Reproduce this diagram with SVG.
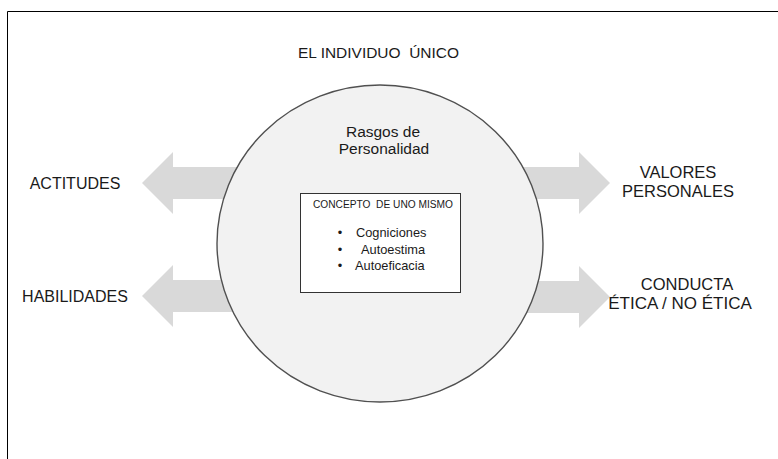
<svg xmlns="http://www.w3.org/2000/svg" width="778" height="459" viewBox="0 0 778 459">
  <style>
    .lbl { font-family: "Liberation Sans", Arial, sans-serif; fill: #1a1a1a; }
    .arrow { fill: #d9d9d9; stroke: none; }
  </style>
  <rect width="778" height="459" fill="#ffffff"/>
  <!-- outer frame (top and left edges only) -->
  <path d="M7.5,459 V11.5 H778" fill="none" stroke="#000" stroke-width="1"/>

  <g id="connectors">
    <polygon class="arrow" points="142,183 173,152 173,167 240,167 240,199 173,199 173,214"/>
    <polygon class="arrow" points="520,167 579,167 579,152 610,183 579,214 579,199 520,199"/>
    <polygon class="arrow" points="142,296 173,265 173,280 240,280 240,312 173,312 173,327"/>
    <polygon class="arrow" points="520,281 579,281 579,266 610,297 579,328 579,313 520,313"/>
  </g>

  <g id="title">
    <text class="lbl" x="378.5" y="58" font-size="15" text-anchor="middle" xml:space="preserve" textLength="161" lengthAdjust="spacingAndGlyphs">EL INDIVIDUO  ÚNICO</text>
  </g>

  <g id="individuo">
    <ellipse cx="380" cy="243.5" rx="163" ry="158.5" fill="#f2f2f2" stroke="#505050" stroke-width="1.4"/>
    <text class="lbl" x="383" y="137" font-size="15.5" text-anchor="middle">Rasgos de</text>
    <text class="lbl" x="384" y="154" font-size="15.5" text-anchor="middle">Personalidad</text>
  </g>

  <g id="concepto">
    <rect x="300.5" y="193.5" width="160" height="99" fill="#ffffff" stroke="#333" stroke-width="1"/>
    <text class="lbl" x="383" y="208" font-size="10" text-anchor="middle" xml:space="preserve" textLength="140" lengthAdjust="spacingAndGlyphs">CONCEPTO  DE UNO MISMO</text>
    <text class="lbl" x="340" y="237" font-size="12.8" text-anchor="middle">•</text>
    <text class="lbl" x="356" y="237" font-size="12.8">Cogniciones</text>
    <text class="lbl" x="340" y="254" font-size="12.8" text-anchor="middle">•</text>
    <text class="lbl" x="361" y="254" font-size="12.8">Autoestima</text>
    <text class="lbl" x="340" y="270" font-size="12.8" text-anchor="middle">•</text>
    <text class="lbl" x="355" y="270" font-size="12.8">Autoeficacia</text>
  </g>

  <g id="actitudes">
    <text class="lbl" x="75" y="189" font-size="16" text-anchor="middle">ACTITUDES</text>
  </g>
  <g id="habilidades">
    <text class="lbl" x="75" y="302" font-size="16" text-anchor="middle">HABILIDADES</text>
  </g>
  <g id="valores">
    <text class="lbl" x="678" y="178" font-size="16.5" text-anchor="middle">VALORES</text>
    <text class="lbl" x="678" y="197" font-size="16.5" text-anchor="middle">PERSONALES</text>
  </g>
  <g id="conducta">
    <text class="lbl" x="687" y="290" font-size="16.5" text-anchor="middle">CONDUCTA</text>
    <text class="lbl" x="680" y="309" font-size="17" text-anchor="middle">ÉTICA / NO ÉTICA</text>
  </g>
</svg>
